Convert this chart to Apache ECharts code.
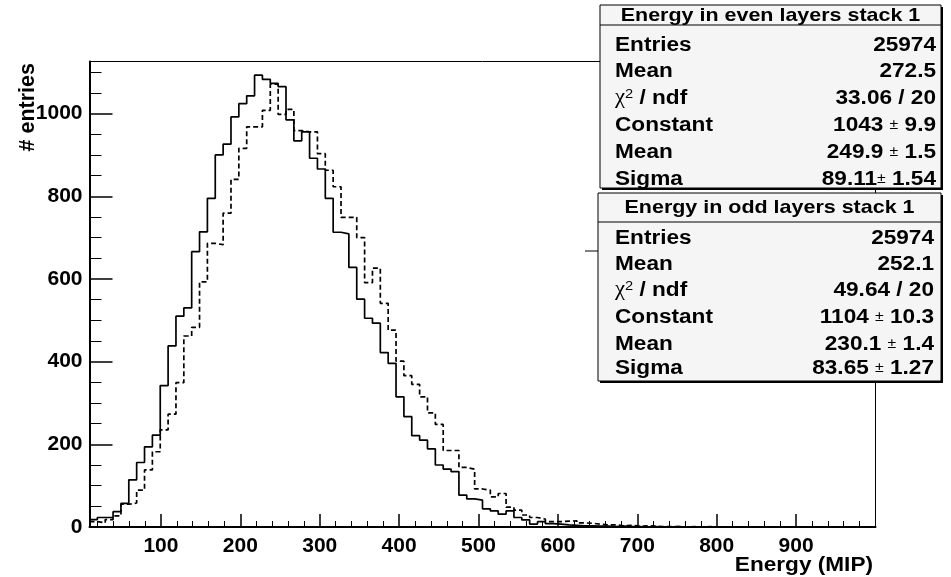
<!DOCTYPE html>
<html><head><meta charset="utf-8">
<script src="https://cdn.jsdelivr.net/npm/echarts@6/dist/echarts.min.js"></script>
<style>html,body{margin:0;padding:0;background:#fff}#c{width:951px;height:577px}</style>
</head><body><div id="c"></div>
<script>
// Histogram binning: 100 bins from 10 to 1000 MIP
const binLow = 10;
const binHigh = 1000;
const nBins = 100;

// Energy in odd layers stack 1 (solid line)
const oddLayers = [
  18, 23, 23, 37, 57, 114, 156, 194, 222, 342,
  438, 510, 530, 666, 714, 795, 900, 926, 992, 1024,
  1043, 1093, 1083, 1073, 1065, 985, 934, 956, 892, 866,
  795, 713, 709, 628, 551, 505, 493, 422, 396, 315,
  267, 221, 210, 189, 150, 140, 134, 77, 68, 65,
  44, 39, 31, 39, 23, 17, 7, 13, 8, 7,
  5, 4, 3, 3, 2, 2, 1, 2, 1, 1,
  0, 1, 0, 0, 1, 0, 0, 0, 0, 0,
  0, 0, 0, 0, 0, 0, 0, 0, 0, 0,
  0, 0, 0, 0, 0, 0, 0, 0, 0, 0
];

// Energy in even layers stack 1 (dashed line)
const evenLayers = [
  13, 10, 18, 27, 55, 58, 89, 138, 182, 235,
  273, 349, 462, 483, 593, 686, 683, 759, 841, 916,
  968, 968, 1008, 1071, 998, 1010, 959, 956, 956, 903,
  863, 823, 749, 749, 700, 591, 626, 541, 476, 401,
  366, 345, 315, 276, 248, 185, 185, 144, 140, 92,
  89, 73, 81, 48, 41, 29, 23, 19, 13, 13,
  14, 15, 10, 9, 7, 5, 5, 3, 4, 2,
  3, 2, 1, 1, 1, 0, 1, 0, 1, 0,
  0, 0, 0, 0, 0, 0, 0, 0, 0, 0,
  0, 0, 0, 0, 0, 0, 0, 0, 0, 0
];

const xTickLabels = [100, 200, 300, 400, 500, 600, 700, 800, 900];
const yTickLabels = [0, 200, 400, 600, 800, 1000];

const statEven = {
  title: 'Energy in even layers stack 1',
  names: ['Entries', 'Mean', 'chi', 'Constant', 'Mean', 'Sigma'],
  values: ['25974', '272.5', '33.06 / 20', '1043 ± 9.9', '249.9 ± 1.5', '89.11± 1.54']
};
const statOdd = {
  title: 'Energy in odd layers stack 1',
  names: ['Entries', 'Mean', 'chi', 'Constant', 'Mean', 'Sigma'],
  values: ['25974', '252.1', '49.64 / 20', '1104 ± 10.3', '230.1 ± 1.4', '83.65 ± 1.27']
};

const xTitle = 'Energy (MIP)';
const yTitle = '# entries';

// ---- build ----
const binWidth = (binHigh - binLow) / nBins;
function stepData(vals) {
  const d = vals.map((v, k) => [binLow + k * binWidth, v]);
  d.push([binHigh, vals[vals.length - 1]]);
  return d;
}
const xMinor = [], yMinor = [];
for (let v = 20; v < binHigh; v += 20) if (v % 100 !== 0) xMinor.push(v);
for (let v = 50; v <= 1100; v += 50) if (v % 200 !== 0) yMinor.push(v);

const FONT = 'Liberation Sans';
const FS = 20;
const SX = 1.13; // horizontal stretch of the reference text

const chart = echarts.init(document.getElementById('c'), null, {renderer: 'canvas'});

function richValue(s) {
  const i = s.indexOf('±');
  if (i < 0) return '{b|' + s + '}';
  return '{b|' + s.slice(0, i) + '}{pm|±}{b|' + s.slice(i + 1) + '}';
}

function statBox(st, x0, x1, y0, y1, sepY, titleY, rowYs, nameX, valX) {
  const els = [];
  els.push({type: 'rect', z: 100, shape: {x: x0 + 2, y: y0 + 2, width: x1 - x0, height: y1 - y0}, style: {fill: '#000'}});
  els.push({type: 'rect', z: 101, shape: {x: x0, y: y0, width: x1 - x0, height: y1 - y0}, style: {fill: '#f5f5f5', stroke: '#000', lineWidth: 1}});
  els.push({type: 'line', z: 102, shape: {x1: x0, y1: sepY, x2: x1, y2: sepY}, style: {stroke: '#000', lineWidth: 1}});
  els.push({type: 'text', z: 103, x: (x0 + x1) / 2, y: titleY, scaleX: SX, style: {text: st.title, font: 'bold 19px "' + FONT + '"', fill: '#000', align: 'center', verticalAlign: 'middle'}});
  const rich = {
    b: {fontFamily: FONT, fontWeight: 'bold', fontSize: FS, fill: '#000'},
    g: {fontFamily: 'Liberation Serif', fontSize: 20, fill: '#000'},
    s: {fontFamily: FONT, fontSize: 13, fill: '#000', verticalAlign: 'top', padding: [0, 0, 8, 0]},
    pm: {fontFamily: FONT, fontSize: 14, fill: '#000'}
  };
  st.names.forEach((n, i) => {
    const txt = n === 'chi' ? '{g|χ}{s|2}{b| / ndf}' : '{b|' + n + '}';
    els.push({type: 'text', z: 103, x: nameX, y: rowYs[i], scaleX: SX, style: {text: txt, rich: rich, align: 'left', verticalAlign: 'middle'}});
    els.push({type: 'text', z: 103, x: valX, y: rowYs[i], scaleX: SX, style: {text: richValue(st.values[i]), rich: rich, align: 'right', verticalAlign: 'middle'}});
  });
  return els;
}

const graphics = [].concat(
  statBox(statEven, 600, 941, 5, 188, 25, 16, [45, 71, 98, 125, 152, 179], 615, 936),
  statBox(statOdd, 598, 941, 193, 381, 222, 208, [238, 264, 290, 317, 344, 368], 615, 934),
  [
    {type: 'line', z: 50, shape: {x1: 585, y1: 251, x2: 598, y2: 251}, style: {stroke: '#000', lineWidth: 1}},
    {type: 'text', z: 60, x: 873, y: 565, scaleX: SX, style: {text: xTitle, font: 'bold 20px "' + FONT + '"', fill: '#000', align: 'right', verticalAlign: 'middle'}},
    {type: 'text', z: 60, x: 28, y: 63, rotation: Math.PI / 2, style: {text: yTitle, font: 'bold 21.5px "' + FONT + '"', fill: '#000', align: 'right', verticalAlign: 'middle'}}
  ]
);

const labelStyle = {fontFamily: FONT, fontWeight: 'bold', fontSize: 21, color: '#000', formatter: v => String(v)};

chart.setOption({
  animation: false,
  backgroundColor: '#fff',
  grid: {left: 89.5, right: 951 - 875.5, top: 61.5, bottom: 577 - 527, show: true, borderColor: '#000', borderWidth: 1, backgroundColor: 'transparent'},
  xAxis: [
    {type: 'value', min: binLow, max: binHigh, position: 'bottom',
     axisLine: {show: true, onZero: false, lineStyle: {color: '#000', width: 2}},
     axisTick: {show: true, inside: true, length: 13, customValues: xTickLabels, lineStyle: {color: '#000', width: 1.5}},
     axisLabel: Object.assign({customValues: xTickLabels, margin: 9}, labelStyle),
     splitLine: {show: false}},
    {type: 'value', min: binLow, max: binHigh, position: 'bottom',
     axisLine: {show: false, onZero: false},
     axisTick: {show: true, inside: true, length: 6, customValues: xMinor, lineStyle: {color: '#000', width: 1}},
     axisLabel: {show: false}, splitLine: {show: false}}
  ],
  yAxis: [
    {type: 'value', min: 0, max: 1126, position: 'left',
     axisLine: {show: true, onZero: false, lineStyle: {color: '#000', width: 2}},
     axisTick: {show: true, inside: true, length: 23, customValues: yTickLabels, lineStyle: {color: '#000', width: 1.5}},
     axisLabel: Object.assign({customValues: yTickLabels, margin: 7}, labelStyle),
     splitLine: {show: false}},
    {type: 'value', min: 0, max: 1126, position: 'left',
     axisLine: {show: false, onZero: false},
     axisTick: {show: true, inside: true, length: 12, customValues: yMinor, lineStyle: {color: '#000', width: 1}},
     axisLabel: {show: false}, splitLine: {show: false}}
  ],
  series: [
    {name: 'Energy in even layers stack 1', type: 'line', step: 'end', xAxisIndex: 0, yAxisIndex: 0,
     data: stepData(evenLayers), showSymbol: false, symbol: 'none', z: 3,
     lineStyle: {color: '#000', width: 1.7, type: [5, 3]}},
    {name: 'Energy in odd layers stack 1', type: 'line', step: 'end', xAxisIndex: 0, yAxisIndex: 0,
     data: stepData(oddLayers), showSymbol: false, symbol: 'none', z: 4,
     lineStyle: {color: '#000', width: 1.7, type: 'solid'}}
  ],
  graphic: graphics
});
</script>
</body></html>
